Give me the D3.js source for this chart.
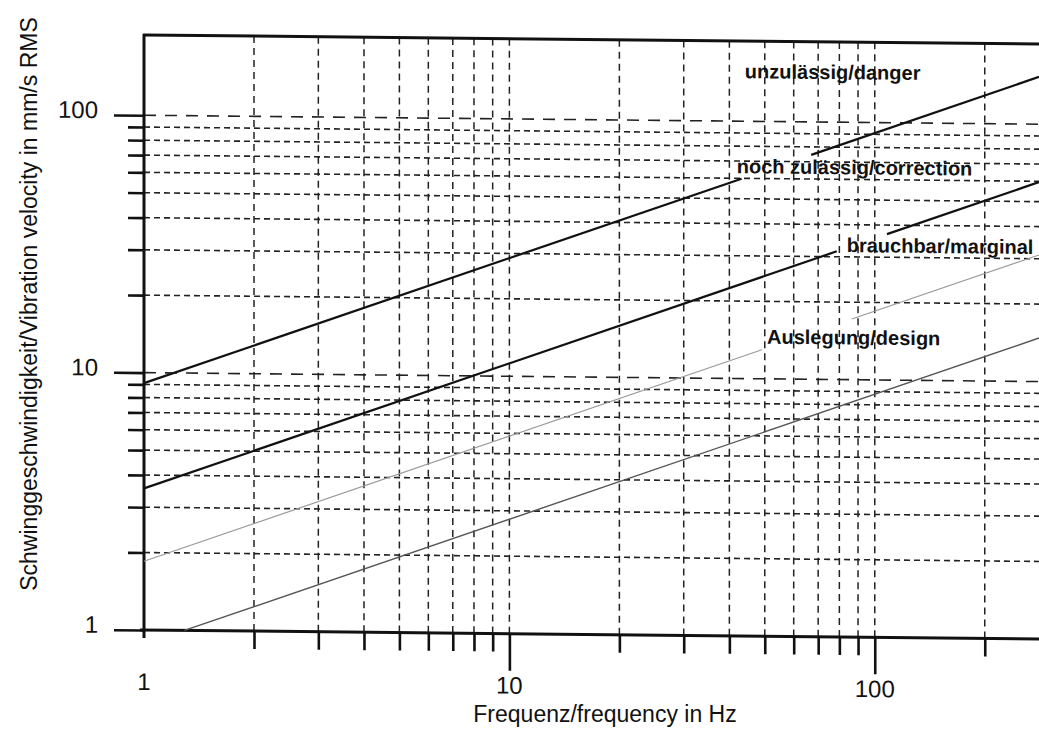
<!DOCTYPE html>
<html><head><meta charset="utf-8">
<script src="https://cdn.jsdelivr.net/npm/d3@7"></script>
<style>
html,body{margin:0;padding:0;background:#fff;}
svg{display:block;font-family:"Liberation Sans",Arial,Helvetica,sans-serif;}
</style></head>
<body>
<svg id="chart" width="1039" height="734"></svg>
<script>
// ---- data ----
const freqDomain = [1, 281.5];          // Hz, visible range
const velDomain = [1, 205];             // mm/s RMS
const xTickLabels = [1, 10, 100];
const yTickLabels = [1, 10, 100];
const xMinorTicks = [2,3,4,5,6,7,8,9,20,30,40,50,60,70,80,90,200];
const yMinorTicks = [2,3,4,5,6,7,8,9,20,30,40,50,60,70,80,90];
// boundary lines: velocity at 1 Hz, slope exponent 0.5 (v ~ sqrt(f))
const boundaryNames = ["danger", "correction", "marginal", "design"];
const boundaryAt1Hz = [9.1, 3.55, 1.85, 0.88];
const boundaryExponent = [0.5, 0.5, 0.5, 0.5];
// drawn segments per line (frequency ranges); gaps leave room for labels
const boundarySegments = [
  [[1, 43.2], [67, 281.5]],
  [[1, 78.7], [108, 281.5]],
  [[1, 49.1], [86.5, 281.5]],
  [[1.29, 281.5]]
];
const zoneLabels = ["unzulässig/danger", "noch zulässig/correction", "brauchbar/marginal", "Auslegung/design"];
const zoneLabelFreq = [44.1, 41.9, 83.8, 50.7];
const zoneLabelVel = [147, 62.8, 31.3, 13.7];
const xAxisTitle = "Frequenz/frequency in Hz";
const yAxisTitle = "Schwinggeschwindigkeit/Vibration velocity in mm/s RMS";

// ---- layout ----
const L = 144, R = 1039, B = 630, T = 35;
const svg = d3.select("#chart");
const x = d3.scaleLog().domain(freqDomain).range([L, R]);
const y = d3.scaleLog().domain(velDomain).range([B, T]);

// slight scanner skew of the original
const g = svg.append("g").attr("transform", `translate(${L},0) skewY(0.573) translate(${-L},0)`);

// grid: horizontal
g.append("g").selectAll("line").data(yMinorTicks).join("line")
  .attr("x1", L).attr("x2", R).attr("y1", d => y(d)).attr("y2", d => y(d))
  .attr("stroke", "#222").attr("stroke-width", 1.6).attr("stroke-dasharray", "6,4");
g.append("g").selectAll("line").data(yTickLabels.filter(d => d > 1)).join("line")
  .attr("x1", L).attr("x2", R).attr("y1", d => y(d)).attr("y2", d => y(d))
  .attr("stroke", "#222").attr("stroke-width", 1.6).attr("stroke-dasharray", "12,9");
// grid: vertical
g.append("g").selectAll("line").data(xMinorTicks.concat(xTickLabels.filter(d => d > 1))).join("line")
  .attr("x1", d => x(d)).attr("x2", d => x(d)).attr("y1", T).attr("y2", B)
  .attr("stroke", "#222").attr("stroke-width", 1.5).attr("stroke-dasharray", "7,5");

// axes with d3
const yAxisMajor = d3.axisLeft(y).tickValues(yTickLabels).tickSize(30).tickPadding(16).tickFormat(d3.format("d"));
const yAxisMinor = d3.axisLeft(y).tickValues(yMinorTicks).tickSize(16).tickFormat("");
const xAxisMajor = d3.axisBottom(x).tickValues(xTickLabels.filter(d => d > 1)).tickSize(37).tickFormat("");
const xAxisMinor = d3.axisBottom(x).tickValues(xMinorTicks).tickSize(18).tickFormat("");

function styleAxis(sel) {
  sel.select(".domain").remove();
  sel.selectAll(".tick line").attr("stroke", "#111").attr("stroke-width", 2.6);
  sel.selectAll("text").attr("fill", "#111").attr("font-size", 24).attr("dy", "0.12em");
}
g.append("g").attr("transform", `translate(${L},0)`).call(yAxisMajor).call(styleAxis);
g.append("g").attr("transform", `translate(${L},0)`).call(yAxisMinor).call(styleAxis);
g.append("g").attr("transform", `translate(0,${B})`).call(xAxisMajor).call(styleAxis);
g.append("g").attr("transform", `translate(0,${B})`).call(xAxisMinor).call(styleAxis);

// x tick labels (placed below ticks)
g.append("g").selectAll("text").data(xTickLabels).join("text")
  .attr("x", d => x(d)).attr("y", 690).attr("text-anchor", "middle")
  .attr("font-size", 24).attr("fill", "#111").text(d => d);

// frame: left, top, bottom
g.append("line").attr("x1", L).attr("x2", L).attr("y1", T - 1).attr("y2", B + 8)
  .attr("stroke", "#111").attr("stroke-width", 3);
g.append("line").attr("x1", L - 1).attr("x2", R).attr("y1", T).attr("y2", T)
  .attr("stroke", "#111").attr("stroke-width", 3);
g.append("line").attr("x1", L - 4).attr("x2", R).attr("y1", B).attr("y2", B)
  .attr("stroke", "#111").attr("stroke-width", 3);

// boundary lines
const lineStroke = ["#111", "#111", "#9a9a9a", "#555"];
const lineWidth = [2.2, 2.2, 1.2, 1.4];
const line = d3.line().x(d => x(d[0])).y(d => y(d[1]));
boundaryNames.forEach((name, i) => {
  boundarySegments[i].forEach(seg => {
    const pts = seg.map(f => [f, boundaryAt1Hz[i] * Math.pow(f, boundaryExponent[i])]);
    g.append("path").attr("d", line(pts)).attr("fill", "none")
      .attr("stroke", lineStroke[i]).attr("stroke-width", lineWidth[i]);
  });
});

// zone labels
g.append("g").selectAll("text").data(zoneLabels).join("text")
  .attr("x", (d, i) => x(zoneLabelFreq[i])).attr("y", (d, i) => y(zoneLabelVel[i]))
  .attr("font-size", 20).attr("font-weight", "bold").attr("fill", "#111").text(d => d);

// axis titles
svg.append("text").attr("x", 605).attr("y", 722).attr("text-anchor", "middle")
  .attr("font-size", 23).attr("fill", "#111").text(xAxisTitle);
svg.append("text").attr("transform", "translate(37,304) rotate(-90)").attr("text-anchor", "middle")
  .attr("font-size", 23).attr("fill", "#111").text(yAxisTitle);
</script>
</body></html>
